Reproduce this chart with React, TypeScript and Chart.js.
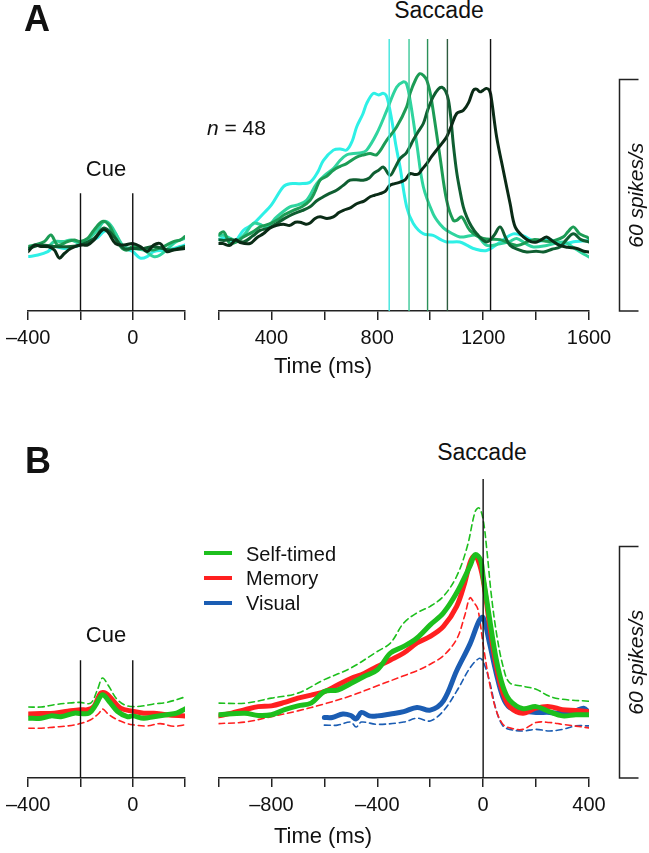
import React, { useEffect, useRef } from 'react';
import { Chart, registerables } from 'chart.js';

Chart.register(...registerables);

const FONT = "'Liberation Sans', Arial, Helvetica, sans-serif";

// ---------- Panel A data (spikes/s vs time, ms) ----------
const cueTicksA = [-400, 0];
const sacTicksA = [400, 800, 1200, 1600];
const sacOnsetsA = [845, 920, 990, 1065, 1228];
const colorsA = ['#2ef0e6', '#2fd49e', '#1c9c55', '#0f5e31', '#0a2b16'];
const onsetColorsA = ['#3fe6de', '#3cc898', '#2a9058', '#2d5b3f', '#111111'];

const cueA1 = [[-400,14.1],[-363,14.5],[-325,15.4],[-300,16.7],[-262,16.2],[-224,16.7],[-201,17.1],[-173,17.9],[-135,19],[-110,20.6],[-85,21],[-66,20.1],[-47,17.5],[-21,16],[0,15.4],[29,13.7],[55,14.1],[80,15.4],[130,15.8],[181,16.7],[200,17.1]];
const cueA2 = [[-400,16.2],[-363,17.1],[-325,16.7],[-300,18.0],[-262,18.0],[-237,18.4],[-201,17.5],[-173,18.4],[-135,21.0],[-110,23.2],[-85,22.3],[-59,19.3],[-34,16.7],[0,16.2],[42,15.8],[80,14.1],[105,14.5],[143,16.7],[168,18.0],[200,18.8]];
const cueA3 = [[-400,16.7],[-376,17.1],[-338,18.0],[-313,19.7],[-287,17.1],[-249,18.0],[-224,18.4],[-201,18.0],[-173,18.8],[-148,21.0],[-116,23.2],[-91,22.3],[-66,18.8],[-40,16.2],[-21,15.8],[0,16.7],[42,16.2],[80,15.8],[118,16.7],[156,18.0],[181,18.4],[200,19.3]];
const cueA4 = [[-400,16.2],[-351,17.1],[-300,16.7],[-237,16.7],[-201,17.1],[-148,18.8],[-110,21.5],[-72,19.3],[-34,16.2],[0,16.2],[42,16.2],[80,16.7],[143,15.8],[200,16.7]];
const cueA5 = [[-400,15.4],[-376,17.1],[-351,16.7],[-325,16.7],[-300,15.8],[-281,13.7],[-262,14.9],[-237,16.2],[-201,17.1],[-173,17.1],[-148,18.4],[-116,21.0],[-97,20.6],[-66,17.5],[-34,17.1],[0,17.5],[29,16.7],[55,15.4],[80,17.1],[105,17.5],[130,15.4],[156,15.8],[200,16.2]];

const sacA1 = [[200,18.5],[230,19],[260,18],[294,20.9],[330,22.5],[369,25.2],[400,27.5],[445,32.2],[470,33],[508,33],[546,33.4],[575,36],[596,39],[634,41.7],[660,42],[684,41.7],[705,44],[722,47.7],[745,51],[760,53.8],[785,56.4],[805,56],[823,56.4],[836,55.5],[855,49.4],[870,43],[886,37.3],[911,27],[936,22.7],[974,20],[1011,19.6],[1040,18.5],[1062,17.9],[1112,17.9],[1140,17],[1163,16.2],[1213,15.7],[1264,17.9],[1314,20],[1350,19.5],[1400,18],[1450,18.5],[1500,17.5],[1550,18],[1600,18.3]];
const sacA2 = [[200,19.5],[220,19.6],[245,18.8],[269,18.3],[300,20],[331,22.7],[355,22.5],[382,21.8],[420,24.4],[470,27],[500,27.5],[533,28.7],[571,33],[609,35.6],[635,37],[659,39],[685,40.5],[710,40.8],[740,41],[760,41.7],[798,46],[836,52],[873,58],[898,59.4],[910,59],[924,54.6],[949,43.4],[974,32.2],[1011,25.2],[1037,22.5],[1062,20.9],[1112,19.2],[1150,19.5],[1176,19.6],[1213,17],[1264,17.4],[1300,18],[1327,18.8],[1360,17.5],[1390,16.6],[1440,17],[1503,17.9],[1540,16.5],[1567,15.3],[1600,14]];
const sacA3 = [[200,19.8],[220,20.5],[243,17.5],[270,18],[294,19.2],[330,20.5],[357,21.8],[390,22.5],[420,23.5],[450,25],[483,26.1],[515,27],[546,28.7],[565,31],[584,33.9],[610,35],[634,36.5],[660,37.5],[684,38.2],[722,39.9],[750,40.5],[773,40.8],[798,40.5],[836,44.3],[873,47.7],[911,52.9],[924,56.4],[945,60],[961,61.5],[975,61],[987,59.8],[1000,56.5],[1011,52],[1024,46],[1037,39.9],[1062,28.7],[1087,23.5],[1100,23.5],[1119,24.4],[1150,20.9],[1200,18.8],[1264,18.5],[1327,17],[1390,18.5],[1453,18],[1503,19.2],[1520,20.5],[1541,21.8],[1565,20],[1591,19.2],[1600,18.8]];
const sacA4 = [[200,18.5],[220,18.3],[250,18.5],[294,17.9],[330,19.5],[357,20.9],[390,21.5],[420,22.7],[450,24],[483,25.2],[515,26],[546,27],[570,28.5],[596,29.6],[620,30.5],[646,31.3],[670,32.5],[697,33.9],[720,34],[747,33.9],[770,34.5],[785,35.6],[805,36.5],[823,37.3],[848,35.2],[866,37],[886,39.5],[910,41],[936,44.3],[955,46.5],[974,48.6],[990,52],[1011,55.5],[1030,57.5],[1044,58],[1058,57],[1069,54.6],[1078,50],[1087,43.4],[1100,36],[1112,31.3],[1125,27],[1138,24.4],[1155,22],[1176,20],[1213,17.9],[1240,19.5],[1264,21.8],[1285,19],[1302,17],[1330,16],[1365,15.3],[1400,15.5],[1428,15.3],[1460,16],[1490,16.6],[1515,18.5],[1541,20],[1570,18.5],[1600,17.9]];
const sacA5 = [[200,17.5],[216,17.5],[243,17],[265,18.5],[280,17.8],[319,17.5],[345,19],[369,20],[395,21.5],[420,22.2],[445,22.5],[470,22.2],[490,23],[508,23],[530,22.5],[546,22.8],[565,24],[584,24.4],[610,24],[634,24.4],[655,25.5],[672,26.1],[700,26.8],[722,27.8],[750,28.5],[773,29.6],[790,30],[810,30.4],[830,31],[848,32.6],[866,33],[886,33.4],[905,34],[924,35.6],[940,35.4],[955,35.5],[970,36.8],[987,38.2],[1005,40],[1024,41.7],[1045,43.5],[1062,45.1],[1080,48],[1100,51.2],[1125,52],[1145,54],[1163,57.2],[1175,57.5],[1188,56.8],[1200,57.2],[1213,57.7],[1225,57],[1232,54.6],[1251,45.1],[1276,36.5],[1302,27.8],[1321,21.8],[1352,19.2],[1380,18],[1403,17.9],[1420,18.5],[1440,19.2],[1465,18],[1490,17],[1520,16.5],[1554,16.2],[1580,15.5],[1600,15.3]];

// ---------- Panel B data ----------
const cueTicksB = [-400, 0];
const sacTicksB = [-800, -400, 0, 400];
const GREEN = '#1dbf1d';
const RED = '#ff2020';
const BLUE = '#1b5db3';

const cueSelf = [[-400,15.5],[-351,15.5],[-313,16.1],[-275,15.9],[-224,16.8],[-201,16.7],[-167,16.8],[-142,18.9],[-116,21.6],[-91,19.9],[-59,17.3],[-21,15.9],[0,16.1],[42,15.5],[80,15.9],[130,16.4],[168,16.8],[200,17.9]];
const cueSelfUpper = [[-400,18.4],[-351,18.4],[-300,19.0],[-249,19.4],[-201,19.6],[-161,19.4],[-135,22.9],[-116,25.9],[-91,23.7],[-59,20.3],[-21,18.7],[29,18.6],[80,19.2],[130,19.6],[200,21.0]];
const cueMemory = [[-400,16.6],[-351,16.7],[-300,16.8],[-249,17.3],[-201,17.7],[-173,17.7],[-148,18.6],[-123,22.0],[-104,22.0],[-78,20.3],[-47,18.1],[0,17.3],[42,16.8],[80,16.8],[130,16.4],[200,16.1]];
const cueMemoryLower = [[-400,12.9],[-351,12.9],[-300,13.2],[-249,13.5],[-201,14.1],[-161,15.1],[-129,16.8],[-116,17.9],[-91,16.4],[-59,15.1],[-21,14.1],[0,13.8],[55,13.5],[105,14.1],[156,13.4],[200,13.8]];

const sacSelf = [[-1000,16.4],[-900,16.8],[-850,16.2],[-800,16.4],[-750,17.7],[-700,18.7],[-650,19.4],[-600,22.4],[-550,22.8],[-500,24.5],[-450,26.3],[-400,28],[-350,32.4],[-300,34.1],[-250,36.3],[-200,39.7],[-150,42.8],[-100,48],[-50,54.9],[-30,57.9],[-10,56.6],[0,52.2],[25,41],[50,30.6],[75,23.7],[100,20.2],[150,18],[200,18.5],[250,17.2],[300,16.1],[350,16.4],[400,16.4]];
const sacSelfUpper = [[-1000,19.4],[-900,19.4],[-800,20.7],[-700,22],[-600,25.5],[-500,28.5],[-400,32.8],[-350,35],[-300,40.2],[-250,42.8],[-200,44.5],[-150,47.1],[-100,52.3],[-60,60],[-30,69.1],[-15,70],[0,67],[15,58.4],[30,48],[50,37.7],[75,29],[100,24.7],[150,23.8],[200,23],[250,21.2],[300,20.4],[400,19.9]];
const sacMemory = [[-1000,16.1],[-950,16.8],[-900,17.7],[-850,18.5],[-800,18.7],[-750,19.6],[-700,20.7],[-650,21.5],[-600,22.4],[-550,24.1],[-500,25.8],[-450,27.1],[-400,28.9],[-350,30.6],[-300,32.4],[-250,35],[-200,36.7],[-150,39.3],[-100,44.5],[-70,50.5],[-50,55.7],[-35,57.5],[-20,56.6],[0,51.4],[25,39.3],[50,28.9],[75,22],[100,18.5],[150,16.8],[200,18.1],[250,18.5],[300,17.7],[350,17.5],[400,17.2]];
const sacMemoryLower = [[-1000,14.1],[-900,14.5],[-800,15.9],[-700,17.4],[-600,19.2],[-500,21.3],[-400,23.9],[-300,26.5],[-250,27.8],[-200,29.5],[-150,31.7],[-100,36],[-70,42],[-50,46.7],[-35,45.5],[-20,43.8],[0,34.6],[25,24.3],[50,17.4],[75,13.9],[100,13],[150,12.6],[200,14.4],[250,14.4],[300,13.9],[400,13]];
const sacVisual = [[-600,15.7],[-570,15.7],[-530,16.6],[-500,16.2],[-480,15.3],[-460,17],[-430,16.1],[-400,16.1],[-350,16.6],[-300,17.2],[-250,18.3],[-200,17.6],[-150,20],[-100,27.8],[-50,34.7],[-15,40.8],[0,41.6],[25,34.7],[50,27],[75,20.9],[100,18.3],[150,17.4],[200,17],[250,17],[300,16.7],[350,17.4],[380,18.1],[400,17]];
const sacVisualLower = [[-600,13.7],[-550,13.7],[-500,14.5],[-480,13.2],[-460,14.5],[-400,13.9],[-300,14.5],[-250,15.5],[-200,14.8],[-150,17.4],[-100,22.5],[-50,28.5],[-15,31],[0,30.2],[25,24.8],[50,17.4],[75,13.5],[100,12.6],[150,12.2],[200,12.6],[250,12.2],[300,12.6],[350,13.5],[400,13.5]];

const cueEvents = [-200, 0];
const cueEventTop = 30.5;
const scaleBarValue = 60;

// ---------- layout (pixels) ----------
const A_TOP = 39, A_BOTTOM = 311, A_YMAX = 70.5;
const B_TOP = 479, B_BOTTOM = 778, B_YMAX = 77.5;
const AXIS_H = 45;
const PAD_TOP = 5;

const pts = (arr: number[][]) => arr.map(([x, y]) => ({ x, y }));
const fmt = (v: number) => (v < 0 ? '\u2013' + Math.abs(v) : String(v));

const trace = (arr: number[][], color: string, width: number, dash?: number[]) => ({
  data: pts(arr),
  borderColor: color,
  borderWidth: width,
  borderDash: dash || [],
  pointRadius: 0,
  tension: 0.35,
  fill: false,
  borderCapStyle: 'round',
  borderJoinStyle: 'round',
});

const vline = (x: number, yTop: number, color: string) => ({
  data: [{ x, y: 0 }, { x, y: yTop }],
  borderColor: color,
  borderWidth: 1.4,
  pointRadius: 0,
  tension: 0,
  fill: false,
});

const scaleBarPlugin = {
  id: 'scaleBar',
  afterDraw(chart: any, _args: any, opts: any) {
    if (!opts || !opts.show) return;
    const y = chart.scales.y;
    const { ctx, chartArea } = chart;
    const x0 = chartArea.right + 30.5;
    const yTop = y.getPixelForValue(scaleBarValue);
    const yBot = y.getPixelForValue(0);
    ctx.save();
    ctx.strokeStyle = '#222';
    ctx.lineWidth = 1.5;
    ctx.beginPath();
    ctx.moveTo(x0 + 19, yTop);
    ctx.lineTo(x0, yTop);
    ctx.lineTo(x0, yBot);
    ctx.lineTo(x0 + 19, yBot);
    ctx.stroke();
    ctx.translate(x0 + 23.5, (yTop + yBot) / 2);
    ctx.rotate(-Math.PI / 2);
    ctx.font = `italic 21px ${FONT}`;
    ctx.fillStyle = '#111';
    ctx.textAlign = 'center';
    ctx.textBaseline = 'alphabetic';
    ctx.fillText(`${scaleBarValue} spikes/s`, 0, 0);
    ctx.restore();
  },
};

type Spec = {
  left: number; top: number; width: number; height: number;
  padL: number; padR: number;
  xMin: number; xMax: number; yMax: number;
  labels: number[]; datasets: any[]; scaleBar: boolean;
};

const makeConfig = (s: Spec): any => ({
  type: 'line',
  data: { datasets: s.datasets },
  plugins: [scaleBarPlugin],
  options: {
    animation: false,
    responsive: true,
    maintainAspectRatio: false,
    events: [],
    layout: { padding: { left: s.padL, right: s.padR, top: PAD_TOP, bottom: 0 } },
    plugins: { legend: { display: false }, tooltip: { enabled: false }, scaleBar: { show: s.scaleBar } },
    scales: {
      x: {
        type: 'linear',
        min: s.xMin,
        max: s.xMax,
        border: { display: true, color: '#222', width: 1.5 },
        grid: { display: true, drawOnChartArea: false, drawTicks: true, tickLength: 9, color: '#222', lineWidth: 1.5 },
        ticks: {
          stepSize: 200,
          autoSkip: false,
          maxRotation: 0,
          padding: 6,
          color: '#111',
          font: { size: 20, family: FONT },
          callback: (v: number) => (s.labels.includes(v) ? fmt(v) : ''),
        },
        afterFit: (scale: any) => { scale.height = AXIS_H; },
      },
      y: { display: false, min: 0, max: s.yMax },
    },
  },
});

const specs: Spec[] = [
  {
    left: 0, top: A_TOP - PAD_TOP, width: 215, height: PAD_TOP + (A_BOTTOM - A_TOP) + AXIS_H,
    padL: 27, padR: 30, xMin: -400, xMax: 200, yMax: A_YMAX, labels: cueTicksA, scaleBar: false,
    datasets: [
      ...cueEvents.map((x) => vline(x, cueEventTop, '#111')),
      trace(cueA5, colorsA[4], 3), trace(cueA4, colorsA[3], 3), trace(cueA3, colorsA[2], 3),
      trace(cueA2, colorsA[1], 3), trace(cueA1, colorsA[0], 3),
    ],
  },
  {
    left: 188, top: A_TOP - PAD_TOP, width: 461, height: PAD_TOP + (A_BOTTOM - A_TOP) + AXIS_H,
    padL: 30.5, padR: 60, xMin: 200, xMax: 1600, yMax: A_YMAX, labels: sacTicksA, scaleBar: true,
    datasets: [
      ...sacOnsetsA.map((x, i) => vline(x, A_YMAX, onsetColorsA[i])),
      trace(sacA5, colorsA[4], 3), trace(sacA4, colorsA[3], 3), trace(sacA3, colorsA[2], 3),
      trace(sacA2, colorsA[1], 3), trace(sacA1, colorsA[0], 3),
    ],
  },
  {
    left: 0, top: B_TOP - PAD_TOP, width: 215, height: PAD_TOP + (B_BOTTOM - B_TOP) + AXIS_H,
    padL: 27, padR: 30, xMin: -400, xMax: 200, yMax: B_YMAX, labels: cueTicksB, scaleBar: false,
    datasets: [
      ...cueEvents.map((x) => vline(x, cueEventTop, '#111')),
      trace(cueSelf, GREEN, 5), trace(cueMemory, RED, 5),
      trace(cueSelfUpper, GREEN, 1.6, [6, 4]), trace(cueMemoryLower, RED, 1.6, [6, 4]),
    ],
  },
  {
    left: 188, top: B_TOP - PAD_TOP, width: 461, height: PAD_TOP + (B_BOTTOM - B_TOP) + AXIS_H,
    padL: 30.5, padR: 60, xMin: -1000, xMax: 400, yMax: B_YMAX, labels: sacTicksB, scaleBar: true,
    datasets: [
      vline(0, B_YMAX, '#111'),
      trace(sacSelf, GREEN, 5), trace(sacMemory, RED, 5), trace(sacVisual, BLUE, 5),
      trace(sacSelfUpper, GREEN, 1.6, [6, 4]), trace(sacMemoryLower, RED, 1.6, [6, 4]),
      trace(sacVisualLower, BLUE, 1.6, [6, 4]),
    ],
  },
];

const BASE = 0.8465;

function Txt(props: { x: number; base: number; size: number; children: any; center?: boolean; bold?: boolean; italic?: boolean }) {
  const { x, base, size, children, center, bold, italic } = props;
  return (
    <div
      style={{
        position: 'absolute',
        left: x,
        top: base - BASE * size,
        fontSize: size,
        lineHeight: `${size}px`,
        fontFamily: FONT,
        fontWeight: bold ? 700 : 400,
        fontStyle: italic ? 'italic' : 'normal',
        color: '#111',
        whiteSpace: 'nowrap',
        transform: center ? 'translateX(-50%)' : undefined,
      }}
    >
      {children}
    </div>
  );
}

const legendItems = [
  { label: 'Self-timed', color: GREEN, y: 553.3 },
  { label: 'Memory', color: RED, y: 578 },
  { label: 'Visual', color: BLUE, y: 603 },
];

export default function App() {
  const refs = useRef<(HTMLCanvasElement | null)[]>([]);

  useEffect(() => {
    const charts = specs.map((s, i) => new Chart(refs.current[i] as HTMLCanvasElement, makeConfig(s)));
    return () => charts.forEach((c) => c.destroy());
  }, []);

  return (
    <div style={{ position: 'absolute', left: 0, top: 0, width: 649, height: 853, background: '#fff', overflow: 'hidden' }}>
      {specs.map((s, i) => (
        <div key={i} style={{ position: 'absolute', left: s.left, top: s.top, width: s.width, height: s.height }}>
          <canvas ref={(el) => { refs.current[i] = el; }} />
        </div>
      ))}
      <Txt x={24} base={31.5} size={36} bold>A</Txt>
      <Txt x={439} base={18.5} size={23} center>Saccade</Txt>
      <Txt x={207} base={135} size={21}><i>n</i> = 48</Txt>
      <Txt x={106} base={177} size={22} center>Cue</Txt>
      <Txt x={323} base={374} size={22} center>Time (ms)</Txt>

      <Txt x={25} base={473} size={36} bold>B</Txt>
      <Txt x={482} base={460} size={23} center>Saccade</Txt>
      <Txt x={106} base={643} size={22} center>Cue</Txt>
      <Txt x={323} base={844} size={22} center>Time (ms)</Txt>
      {legendItems.map((it) => (
        <React.Fragment key={it.label}>
          <div style={{ position: 'absolute', left: 204, top: it.y - 2, width: 28, height: 4, background: it.color }} />
          <Txt x={246} base={it.y + 7.2} size={20}>{it.label}</Txt>
        </React.Fragment>
      ))}
    </div>
  );
}
